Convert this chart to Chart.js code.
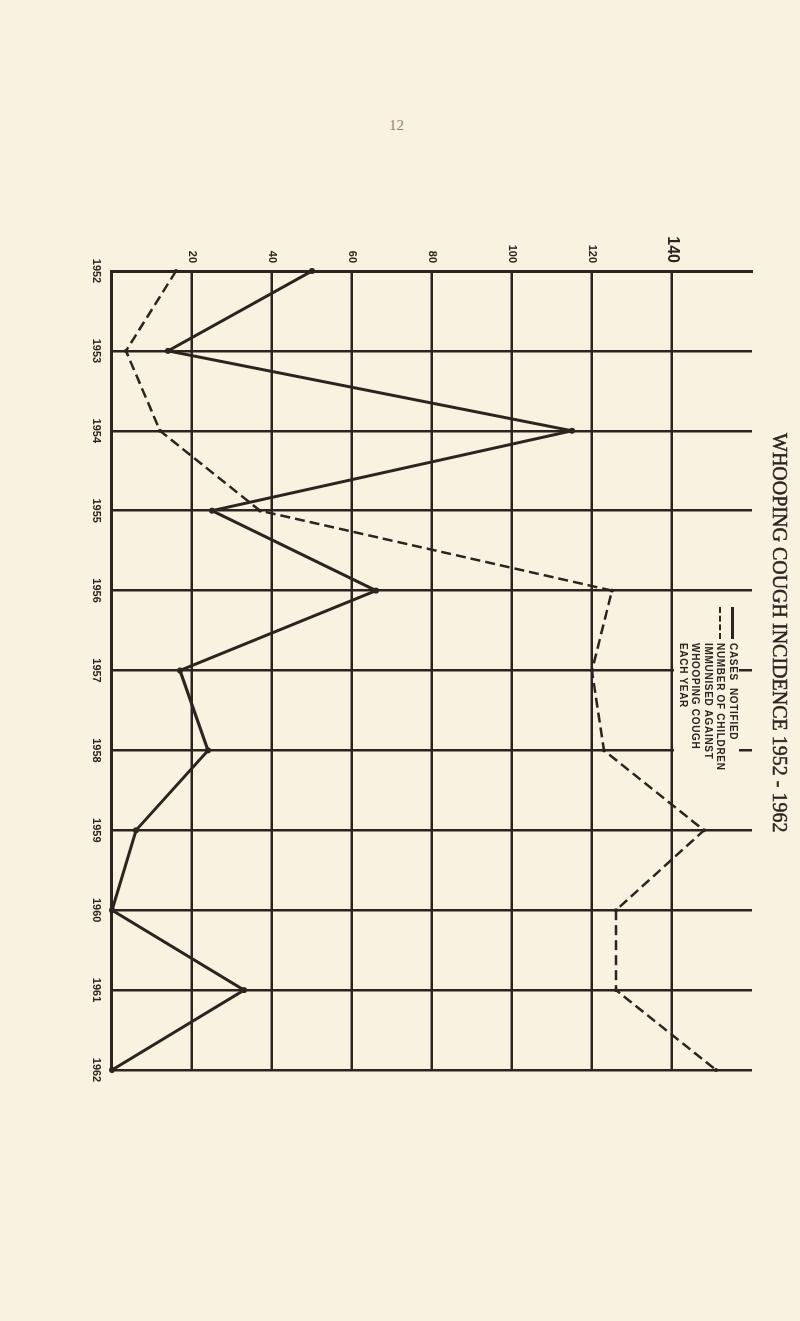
<!DOCTYPE html>
<html>
<head>
<meta charset="utf-8">
<script src="https://cdn.jsdelivr.net/npm/chart.js@4"></script>
<style>
  html, body { margin: 0; padding: 0; background: #f9f2e0; }
  body { width: 800px; height: 1321px; position: relative; overflow: hidden; }
  #page-no { position: absolute; left: 389px; top: 117px; font: 15px "Liberation Serif", serif; color: #8c877e; }
  /* the whole sheet is printed sideways: draw it landscape, then turn it */
  #sheet { position: absolute; left: 0; top: 0; width: 1321px; height: 800px;
           transform-origin: 0 0; transform: translate(800px, 0) rotate(90deg); }
  #sheet canvas { position: absolute; left: 0; top: 0; }
  #title { position: absolute; left: 433px; top: 9px; white-space: nowrap;
           font: 20px "Liberation Serif", serif; color: #2b2520; -webkit-text-stroke: 0.5px #2b2520; }
  #legend { position: absolute; left: 607px; top: 61px; padding: 0 6px 2px 0;
            background: #f9f2e0; color: #2b2520; white-space: nowrap;
            font: bold 10px "Liberation Sans", sans-serif; line-height: 12.5px; letter-spacing: 0.7px; }
  #legend .sym { display: inline-block; width: 32px; height: 0; margin-right: 4px; vertical-align: middle; }
  #legend .solid { border-top: 3px solid #2b2520; }
  #legend .dash { border-top: 2.5px dashed #2b2520; }
  #legend .indent { padding-left: 36px; }
</style>
</head>
<body>
<div id="page-no">12</div>
<div id="sheet">
  <canvas id="chart" width="1321" height="800"></canvas>
  <div id="title">WHOOPING COUGH INCIDENCE 1952 - 1962</div>
  <div id="legend">
    <div><span class="sym solid"></span>CASES&nbsp;&nbsp;NOTIFIED</div>
    <div><span class="sym dash"></span>NUMBER OF CHILDREN</div>
    <div class="indent">IMMUNISED AGAINST</div>
    <div class="indent">WHOOPING COUGH</div>
    <div class="indent">EACH YEAR</div>
  </div>
</div>
<script>
const years = ["1952", "1953", "1954", "1955", "1956", "1957", "1958", "1959", "1960", "1961", "1962"];
const casesNotified = [50, 14, 115, 25, 66, 17, 24, 6, 0, 33, 0];
const childrenImmunised = [16, 3.5, 12, 37, 125, 120, 123, 148, 126, 126, 151];
const valueTicks = [20, 40, 60, 80, 100, 120, 140];

const ink = "#2b2520";

new Chart(document.getElementById("chart"), {
  type: "line",
  data: {
    labels: years,
    datasets: [
      {
        label: "Cases notified",
        data: casesNotified,
        borderColor: ink,
        borderWidth: 3,
        pointRadius: 3,
        pointBackgroundColor: ink,
        pointBorderWidth: 0,
        tension: 0,
        clip: false,
      },
      {
        label: "Number of children immunised against whooping cough each year",
        data: childrenImmunised,
        borderColor: ink,
        borderWidth: 2.5,
        borderDash: [10, 5],
        pointRadius: 2,
        pointBackgroundColor: ink,
        pointBorderWidth: 0,
        tension: 0,
        clip: false,
      },
    ],
  },
  options: {
    responsive: false,
    animation: false,
    layout: { padding: { left: 200, right: 251, top: 48, bottom: 52 } },
    plugins: {
      legend: { display: false },
      tooltip: { enabled: false },
    },
    scales: {
      x: {
        afterFit: (s) => { s.height = 60; },
        grid: { color: ink, lineWidth: 2.5, drawTicks: false },
        border: { color: ink, width: 3 },
        ticks: {
          color: ink,
          padding: 9,
          maxRotation: 0,
          font: { family: "Liberation Sans", weight: "bold", size: 11 },
        },
      },
      y: {
        min: 0,
        max: 160,
        afterFit: (s) => { s.width = 71; },
        grid: { color: ink, lineWidth: 2.5, drawTicks: false },
        border: { color: ink, width: 3 },
        ticks: {
          stepSize: 20,
          color: ink,
          padding: 8,
          callback: (v) => (valueTicks.includes(v) ? String(v) : null),
          font: (ctx) => ({
            family: "Liberation Sans",
            weight: "bold",
            size: ctx.tick && ctx.tick.value === 140 ? 16 : 11,
          }),
        },
      },
    },
  },
});
</script>
</body>
</html>
